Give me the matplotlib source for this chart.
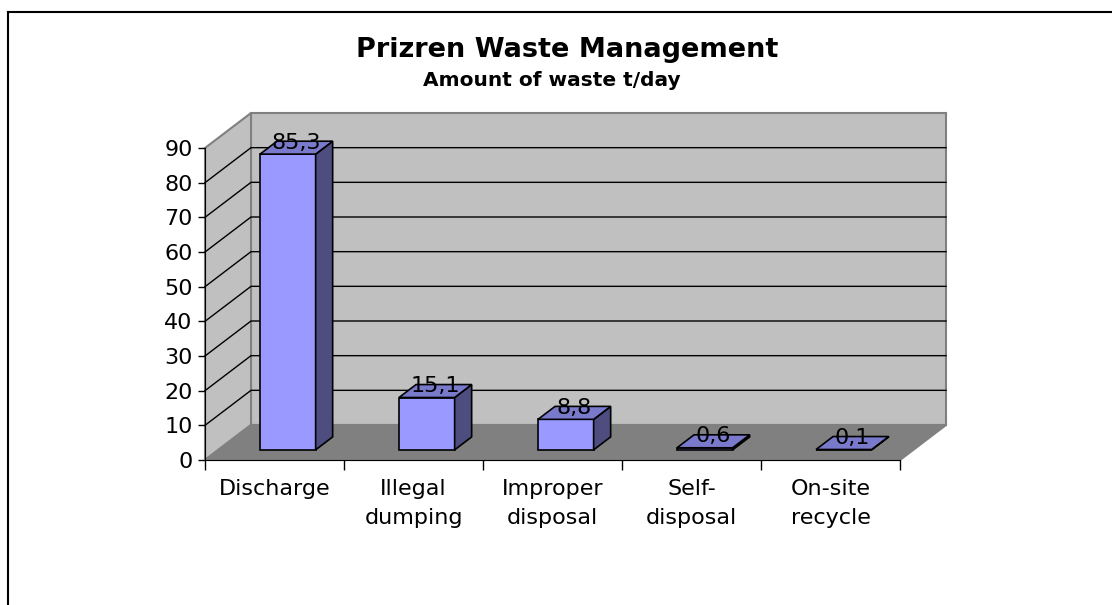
import matplotlib
matplotlib.use("Agg")
import matplotlib.pyplot as plt
from matplotlib.patches import Polygon
from matplotlib.lines import Line2D

categories = ["Discharge", "Illegal\ndumping", "Improper\ndisposal", "Self-\ndisposal", "On-site\nrecycle"]
values = [85.3, 15.1, 8.8, 0.6, 0.1]
value_labels = ["85,3", "15,1", "8,8", "0,6", "0,1"]
y_ticks = [0, 10, 20, 30, 40, 50, 60, 70, 80, 90]

W, H = 1112, 605
fig = plt.figure(figsize=(W / 100, H / 100), dpi=100)
plt.rcParams['font.family'] = ['DejaVu Sans']

# axes = front plane of the 3D box
L, R, B, T = 205, 900, 460, 148
ax = fig.add_axes([L / W, 1 - B / H, (R - L) / W, (B - T) / H])
n = len(categories)
ymax = 90
ax.set_xlim(0, n)
ax.set_ylim(0, ymax)
ax.patch.set_visible(False)

# depth offsets in data units
DX = 46 / ((R - L) / n)
DY = 35 / ((B - T) / ymax)

wall_c = '#c0c0c0'
floor_c = '#808080'
edge_c = '#808080'

# back wall
ax.add_patch(Polygon([(DX, DY), (n + DX, DY), (n + DX, ymax + DY), (DX, ymax + DY)],
                     closed=True, facecolor=wall_c, edgecolor=edge_c, lw=1.5, clip_on=False, zorder=1))
# left wall
ax.add_patch(Polygon([(0, 0), (DX, DY), (DX, ymax + DY), (0, ymax)],
                     closed=True, facecolor=wall_c, edgecolor=edge_c, lw=1.5, clip_on=False, zorder=1))
# gridlines
for v in y_ticks[1:-1]:
    ax.plot([0, DX, n + DX], [v, v + DY, v + DY], color='black', lw=1, clip_on=False, zorder=2)
# floor
ax.add_patch(Polygon([(0, 0), (n, 0), (n + DX, DY), (DX, DY)],
                     closed=True, facecolor=floor_c, edgecolor=edge_c, lw=1.5, clip_on=False, zorder=3))

# bars
f0, f1 = 0.29, 0.66
bw = 0.4
front_c = '#9999ff'
side_c = '#4d4d80'
top_c = '#7a7acc'
xs = [i + 0.5 for i in range(n)]
ax.bar([x + f0 * DX for x in xs], values, width=bw, bottom=f0 * DY,
       color=front_c, edgecolor='black', lw=1.2, zorder=5, clip_on=False)
ddx = (f1 - f0) * DX
ddy = (f1 - f0) * DY
for x, v in zip(xs, values):
    x0 = x - bw / 2 + f0 * DX
    x1 = x + bw / 2 + f0 * DX
    y0 = f0 * DY
    yt = v + f0 * DY
    ax.add_patch(Polygon([(x1, y0), (x1 + ddx, y0 + ddy), (x1 + ddx, yt + ddy), (x1, yt)],
                         closed=True, facecolor=side_c, edgecolor='black', lw=1.2, clip_on=False, zorder=5))
    ax.add_patch(Polygon([(x0, yt), (x1, yt), (x1 + ddx, yt + ddy), (x0 + ddx, yt + ddy)],
                         closed=True, facecolor=top_c, edgecolor='black', lw=1.2, clip_on=False, zorder=5))

fm = (f0 + f1) / 2
for x, v, lab in zip(xs, values, value_labels):
    ax.text(x + fm * DX, v + 0.62 * DY, lab, ha='center', va='center', fontsize=16,
            color='black', zorder=7, clip_on=False)

# axes / ticks
for s in ['top', 'right']:
    ax.spines[s].set_visible(False)
ax.spines['left'].set_color('black')
ax.spines['bottom'].set_color('black')
ax.spines['left'].set_zorder(4)
ax.spines['bottom'].set_zorder(4)
ax.set_yticks(y_ticks)
ax.set_yticklabels([str(t) for t in y_ticks])
ax.tick_params(axis='y', direction='out', length=5, width=1, labelsize=16, pad=4, colors='black')
ax.set_xticks(xs)
ax.set_xticklabels(categories, linespacing=1.55)
ax.set_xticks(list(range(n + 1)), minor=True)
ax.tick_params(axis='x', which='major', length=0, labelsize=16, pad=14)
ax.tick_params(axis='x', which='minor', direction='out', length=7, width=1, colors='black')

# titles
fig.text(567 / W, 1 - 50 / H, "Prizren Waste Management", ha='center', va='center',
         fontsize=19.5, fontweight='bold')
fig.text(552 / W, 1 - 81 / H, "Amount of waste t/day", ha='center', va='center',
         fontsize=14.5, fontweight='bold')

# outer chart frame (left and top edges visible)
fig.add_artist(Line2D([8 / W, 8 / W], [0, 1 - 12 / H], color='black', lw=1.5, transform=fig.transFigure))
fig.add_artist(Line2D([8 / W, 1], [1 - 12 / H, 1 - 12 / H], color='black', lw=1.5, transform=fig.transFigure))

fig.savefig("out.png", dpi=100)
